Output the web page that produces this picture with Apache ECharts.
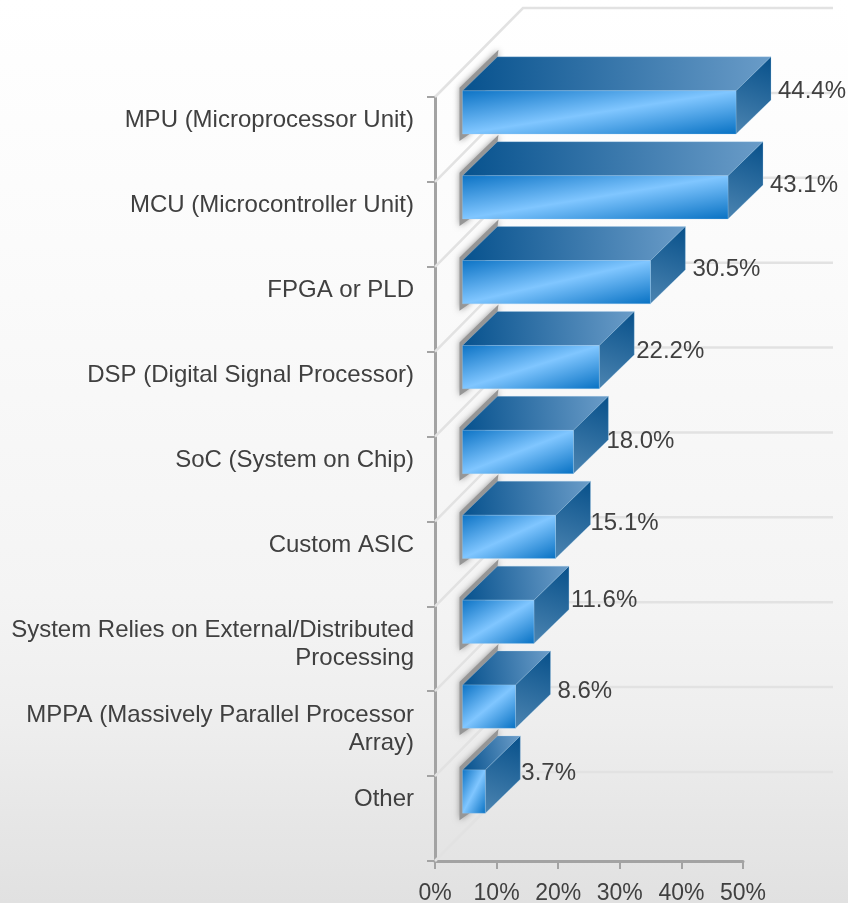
<!DOCTYPE html>
<html>
<head>
<meta charset="utf-8">
<style>html,body{margin:0;padding:0;background:#fff}#c{width:848px;height:903px}</style>
<script src="https://cdn.jsdelivr.net/npm/echarts@6/dist/echarts.min.js"></script>
</head>
<body>
<div id="c"></div>
<script>
const categories = [
  'MPU (Microprocessor Unit)',
  'MCU (Microcontroller Unit)',
  'FPGA or PLD',
  'DSP (Digital Signal Processor)',
  'SoC (System on Chip)',
  'Custom ASIC',
  'System Relies on External/Distributed\nProcessing',
  'MPPA (Massively Parallel Processor\nArray)',
  'Other'
];
const values = [44.4, 43.1, 30.5, 22.2, 18.0, 15.1, 11.6, 8.6, 3.7];
const valueLabels = ['44.4%', '43.1%', '30.5%', '22.2%', '18.0%', '15.1%', '11.6%', '8.6%', '3.7%'];

// Data labels in the reference were hand-nudged relative to their bars.
const labelNudgeX = [7, 7, 7, 2, -2, 0, 2, 7, 1];
const labelNudgeY = [-48, -39, -40, -42.5, -37.5, -40.5, -48.5, -42.5, -45.5];

const TEXT = '#404040', FONT = '"Liberation Sans", Arial, sans-serif', FS = 24, AXIS_FS = 23;
const WALL_X = 88, WALL_Y = 89;   // projection of the full floor depth
const GAP = 27, DEPTH_X = 35, DEPTH_Y = 34;  // bar's offset from the front plane, and its depth
const BAR_RATIO = 0.51;

function lg(x, y, x2, y2, stops) {
  return new echarts.graphic.LinearGradient(x, y, x2, y2, stops.map((c, i) => ({offset: c[0], color: c[1]})));
}

function renderWalls(params, api) {
  const i = api.value(0);
  const band = api.size([0, 1])[1];
  const c0 = api.coord([0, i]);
  const c50 = api.coord([50, i]);
  const ln = '#e2e2e2';
  const rows = i === categories.length - 1 ? [c0[1] - band / 2, c0[1] + band / 2] : [c0[1] - band / 2];
  const children = [];
  rows.forEach(y => {
    children.push({type: 'polyline', shape: {points: [[c0[0], y], [c0[0] + WALL_X, y - WALL_Y], [c50[0] + WALL_X + 2, y - WALL_Y]]},
      style: {fill: 'none', stroke: ln, lineWidth: 2.5}, silent: true});
  });
  return {type: 'group', children};
}

function renderBar(params, api) {
  const i = api.value(1);
  const v = api.value(0);
  const band = api.size([0, 1])[1];
  const s = api.coord([0, i]);
  const e = api.coord([v, i]);
  const h = band * BAR_RATIO;
  const L = s[0] + GAP + 0.5, R = e[0] + GAP + 0.5;
  const T = s[1] - GAP - h / 2, B = T + h;
  const w = R - L;
  // gradient whose iso-lines run along the face's anti-diagonal
  const d = w * w + h * h;
  const fx = h * h / d, fy = w * w / d;
  const front = lg(0.5 - fx, 0.5 - fy, 0.5 + fx, 0.5 + fy, [[0, '#0b72c4'], [0.5, '#80c6ff'], [1, '#0670c2']]);
  const top = lg(0, 0.7, 1, 0.3, [[0, '#07528e'], [1, '#6a9cc8']]);
  const side = lg(1, 0, 0.2, 1, [[0, '#07508a'], [1, '#4a83b0']]);
  const edge = 'rgba(170,210,240,0.45)';
  const children = [
    {type: 'polygon', silent: true,
      shape: {points: [[L + DEPTH_X + 1, T - DEPTH_Y - 7], [L - 3, T - 3], [L - 3, B + 7], [L + 7, B], [L + DEPTH_X, T - DEPTH_Y]]},
      style: {fill: '#969696', shadowBlur: 6, shadowColor: '#969696'}},
    {type: 'polygon', shape: {points: [[L, T], [L + DEPTH_X, T - DEPTH_Y], [R + DEPTH_X, T - DEPTH_Y], [R, T]]},
      style: {fill: top, stroke: edge, lineWidth: 0.6}},
    {type: 'polygon', shape: {points: [[R, T], [R + DEPTH_X, T - DEPTH_Y], [R + DEPTH_X, B - DEPTH_Y], [R, B]]},
      style: {fill: side, stroke: edge, lineWidth: 0.6}},
    {type: 'rect', shape: {x: L, y: T, width: w, height: h},
      style: {fill: front, stroke: edge, lineWidth: 0.6}},
    {type: 'text', silent: true,
      style: {text: valueLabels[i], x: R + DEPTH_X + labelNudgeX[i], y: s[1] + labelNudgeY[i],
        fill: TEXT, fontFamily: FONT, fontSize: FS, textAlign: 'left', textVerticalAlign: 'middle'}}
  ];
  return {type: 'group', children};
}

const axisColor = '#a3a3a3';
const chart = echarts.init(document.getElementById('c'), null, {renderer: 'canvas'});
chart.setOption({
  animation: false,
  backgroundColor: new echarts.graphic.LinearGradient(0, 0, 0, 1, [
    {offset: 0, color: '#ffffff'}, {offset: 0.27, color: '#fbfbfb'}, {offset: 0.66, color: '#f4f4f4'},
    {offset: 0.8, color: '#eeeeee'}, {offset: 0.9, color: '#e7e7e7'}, {offset: 1, color: '#e1e1e1'}
  ]),
  grid: [
    {left: 435, top: 97, width: 308, height: 764, outerBoundsMode: 'none'},
    {left: 435, top: 64, width: 308, height: 764, outerBoundsMode: 'none'}
  ],
  xAxis: [
    {type: 'value', gridIndex: 0, min: 0, max: 50, interval: 10, splitLine: {show: false},
      axisLine: {show: true, lineStyle: {color: axisColor, width: 3}},
      axisTick: {show: true, length: 8, lineStyle: {color: axisColor, width: 2}},
      axisLabel: {formatter: '{value}%', color: TEXT, fontFamily: FONT, fontSize: AXIS_FS, margin: 21, hideOverlap: false}},
    {type: 'value', gridIndex: 1, min: 0, max: 50, show: false}
  ],
  yAxis: [
    {type: 'category', gridIndex: 0, inverse: true, data: categories,
      axisLine: {show: true, lineStyle: {color: axisColor, width: 3}},
      axisTick: {show: true, length: 8, lineStyle: {color: axisColor, width: 2}},
      axisLabel: {show: false}, splitLine: {show: false}},
    {type: 'category', gridIndex: 1, inverse: true, data: categories,
      axisLine: {show: false}, axisTick: {show: false}, splitLine: {show: false},
      axisLabel: {show: true, interval: 0, color: TEXT, fontFamily: FONT, fontSize: FS, lineHeight: 28.5,
        align: 'right', verticalAlign: 'top', margin: 21, hideOverlap: false}}
  ],
  series: [
    {type: 'custom', xAxisIndex: 0, yAxisIndex: 0, clip: false, silent: true, z: 1,
      data: categories.map((c, i) => [i]), encode: {y: 0}, renderItem: renderWalls},
    {type: 'custom', xAxisIndex: 0, yAxisIndex: 0, clip: false, z: 3,
      data: values.map((v, i) => [v, i]), encode: {x: 0, y: 1}, renderItem: renderBar}
  ]
});
</script>
</body>
</html>
